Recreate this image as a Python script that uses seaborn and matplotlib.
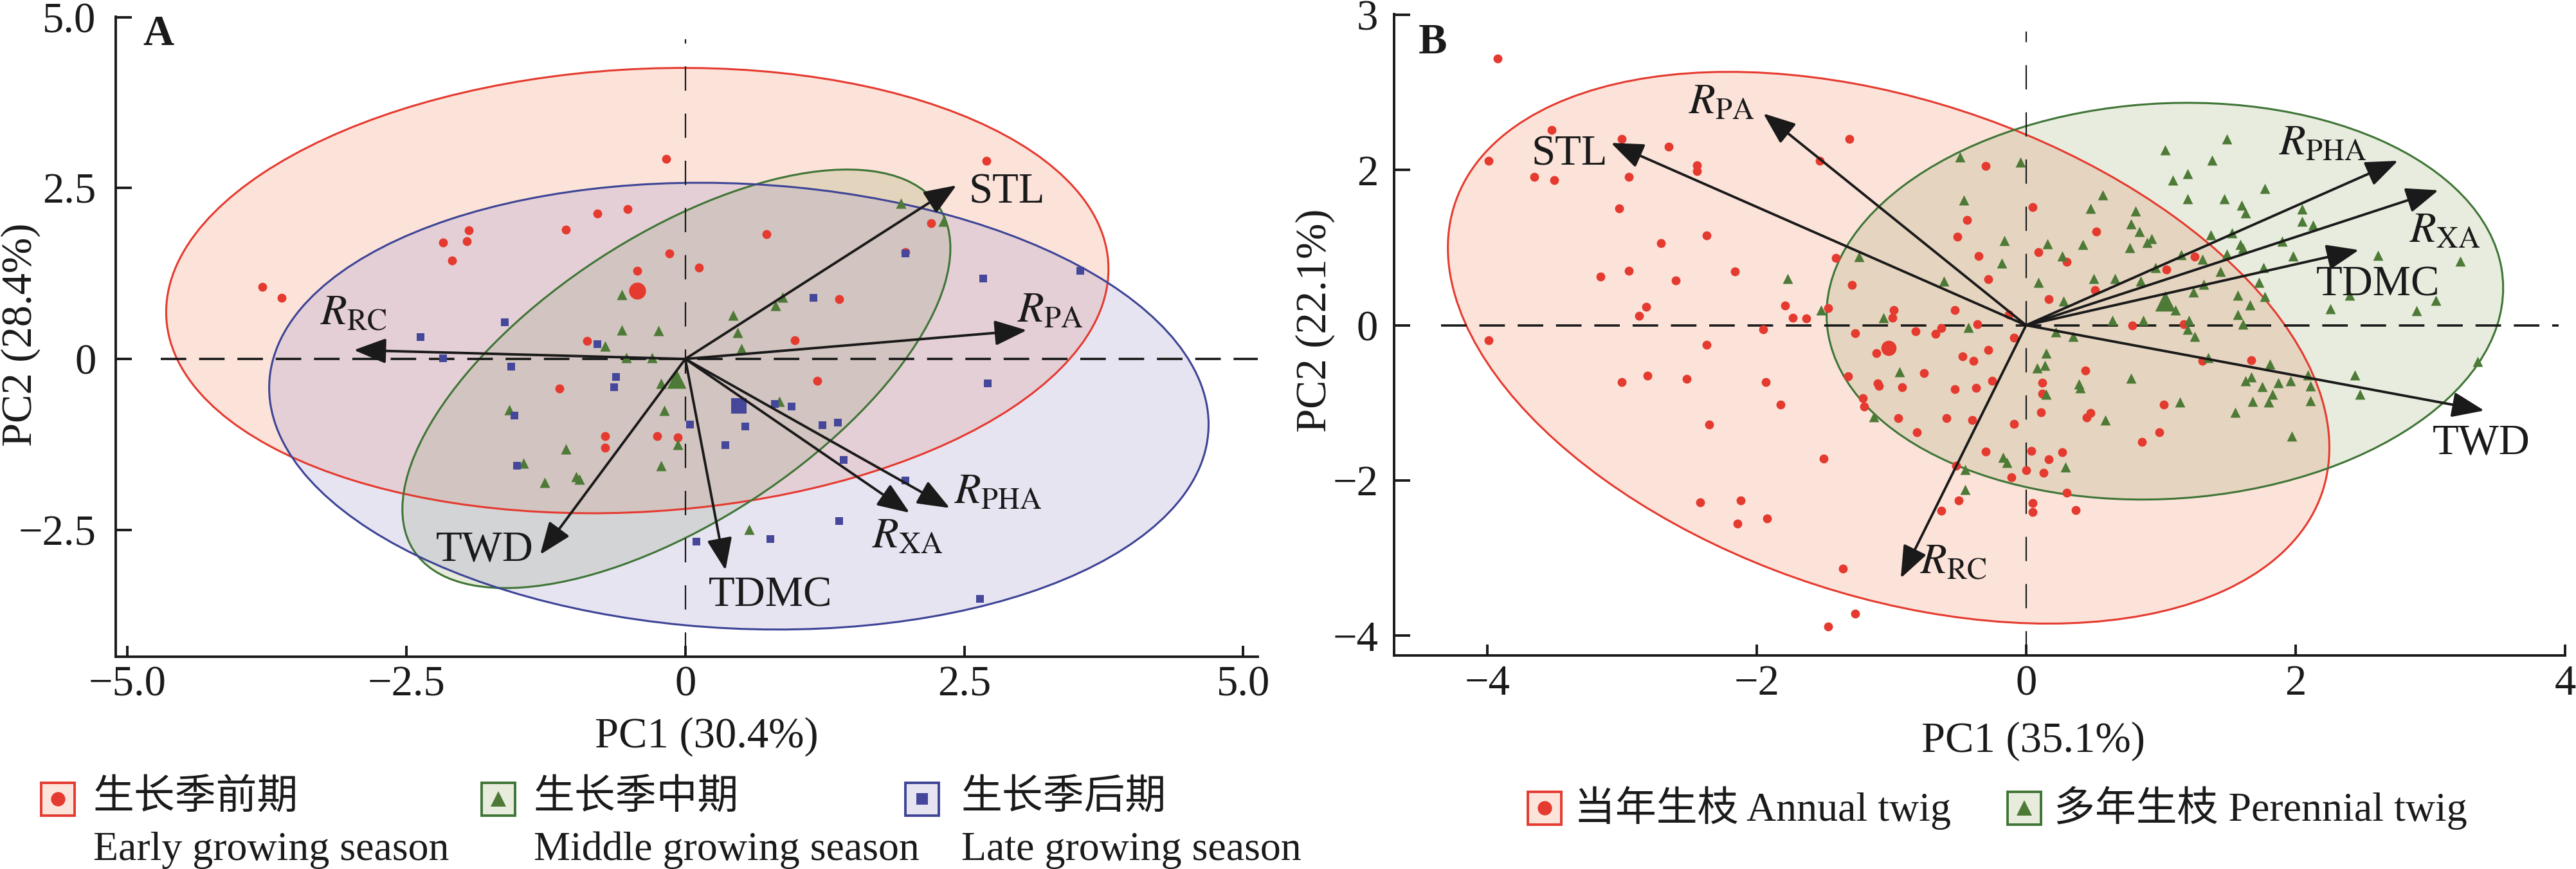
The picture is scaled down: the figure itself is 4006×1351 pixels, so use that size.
import numpy as np
import pandas as pd
import matplotlib
matplotlib.use("Agg")
import matplotlib.pyplot as plt
import seaborn as sns
from matplotlib.patches import Ellipse, Rectangle
from matplotlib.lines import Line2D

# ---------------- data: panel A (growing season) ----------------
a_early_x = [-3.79, -3.62, -0.17, 2.70, -0.79, -0.52, -1.94, -2.17, -1.96, -2.09, -1.07, 0.73, 2.20,
             1.97, -0.14, -0.43, 0.12, 1.38, 0.98, -0.88, 1.18, -1.13, -0.72, -0.72, -0.25, -0.07]
a_early_y = [1.05, 0.89, 2.93, 2.90, 2.13, 2.19, 1.88, 1.70, 1.72, 1.44, 1.89, 1.83, 1.99,
             1.56, 1.54, 1.29, 1.34, 0.88, 0.27, 0.26, -0.32, -0.43, -1.13, -1.30, -1.13, -1.15]
a_mid_x = [1.93, 2.31, -0.57, 0.87, 0.81, 0.43, 0.47, -0.57, -0.24, -0.72, 0.50, -0.53, -0.30,
           -0.22, 0.84, -0.19, -1.58, -1.07, -0.07, -1.45, -0.22, -0.98, -0.95, -1.26, 0.57]
a_mid_y = [2.28, 2.01, 0.94, 0.90, 0.78, 0.64, 0.39, 0.42, 0.41, 0.19, 0.15, 0.02, 0.02,
           -0.36, -0.62, -0.75, -0.74, -1.32, -1.25, -1.52, -1.56, -1.72, -1.76, -1.81, -2.49]
a_late_x = [3.54, 2.67, 1.97, 1.15, -1.62, -2.37, -0.79, -2.17, -1.56, -0.62, -0.64, 2.71, 0.95, 0.80,
            0.04, 0.54, 1.23, 1.37, -1.53, 0.36, 1.42, -1.51, 1.97, 1.38, 0.76, 0.10, 2.64]
a_late_y = [1.29, 1.18, 1.54, 0.89, 0.54, 0.32, 0.22, 0.01, -0.11, -0.26, -0.41, -0.36, -0.70, -0.66,
            -0.96, -0.99, -0.97, -0.93, -0.83, -1.26, -1.48, -1.56, -1.78, -2.37, -2.63, -2.67, -3.51]
a_groups = ["early", "middle", "late"]
a_cent_x = [-0.43, -0.08, 0.48]
a_cent_y = [1.00, -0.29, -0.69]
a_ell_a = [4.25, 3.56, 4.23]
a_ell_b = [3.22, 1.65, 3.24]
a_ell_angle = [10.1, 54.8, -8.9]
a_vars = ["STL", "$\\mathit{R}_{\\mathrm{PA}}$", "$\\mathit{R}_{\\mathrm{RC}}$", "TWD", "TDMC",
          "$\\mathit{R}_{\\mathrm{XA}}$", "$\\mathit{R}_{\\mathrm{PHA}}$"]
a_load_x = [2.43, 3.06, -2.97, -1.30, 0.36, 2.01, 2.37]
a_load_y = [2.54, 0.42, 0.13, -2.86, -3.09, -2.25, -2.18]
a_lab_x = [2.88, 3.27, -2.97, -1.80, 0.76, 1.99, 2.80]
a_lab_y = [2.44, 0.70, 0.66, -2.79, -3.46, -2.60, -1.95]

# ---------------- data: panel B (twig age) ----------------
b_ann_x = [-1.31, -1.53, -0.30, 0.05, -0.44, -0.51, 0.52, -1.41, -0.35, 0.09, 0.30, -0.28, -1.29, 1.25,
           1.04, 0.51, 0.17, -1.47, -1.63, -0.98, -0.99, -0.53, -0.36, -0.13, 0.79, 1.17, -1.27, -0.82,
           -0.67, -0.63, -0.09, -1.11, -0.47, -0.39, -0.28, 1.67, 1.31, 0.44, -0.76, -1.32, -0.25, -1.10,
           0.12,
           -1.09, -0.92, -0.53, -0.37, 0.12, -1.21, -1.20, -0.95, -0.59, -0.40, -0.09, 0.11, 0.48, 0.45,
           1.02, 0.99, 0.86, -0.81, -1.50, -0.30, 0.04, 0.27, 0.17, 0.00, 0.13, -0.11, -0.52, 0.30,
           -0.50, 0.05, 0.05, 0.37, -0.63, -1.36,
           -3.92, -3.99, -3.52, -3.65, -3.50, -3.00, -2.95, -2.65, -2.44, -2.44, -3.02, -2.37, -2.71,
           -3.16, -2.95, -2.60, -2.16, -2.82, -2.87, -3.99, -1.79, -1.73, -1.95, -2.37, -3.00, -2.81,
           -2.52, -1.93, -1.82, -2.35, -2.42, -2.12, -2.14, -1.92, -1.27, -1.47]
b_ann_y = [2.40, 2.12, 2.05, 1.52, 1.36, 1.14, 1.21, 0.87, 0.89, 0.94, 0.82, 0.59, 0.52, 0.88,
           0.72, 0.45, 0.34, 0.22, 0.09, 0.20, 0.10, 0.20, 0.01, 0.14, 0.00, 0.01, -0.10, -0.08,
           -0.11, -0.04, -0.16, -0.36, -0.40, -0.46, -0.32, -0.45, -0.46, -0.58, -0.62, -0.66, -0.72, -0.75,
           -0.74,
           -0.78, -0.80, -0.82, -0.81, -0.88, -0.94, -1.05, -1.20, -1.20, -1.22, -1.27, -1.12, -1.13, -1.19,
           -1.02, -1.38, -1.50, -1.38, -1.72, -1.63, -1.62, -1.64, -1.73, -1.87, -1.90, -1.96, -1.81, -2.16,
           -2.26, -2.29, -2.41, -2.38, -2.39, -3.14,
           3.44, 2.12, 2.52, 1.91, 1.87, 2.40, 1.91, 2.30, 2.06, 1.99, 1.51, 1.16, 1.06,
           0.63, 0.70, 0.58, 0.69, 0.24, 0.12, -0.19, 0.25, 0.10, -0.05, -0.25, -0.73, -0.65,
           -0.69, -0.73, -1.02, -1.28, -2.28, -2.26, -2.56, -2.49, -3.72, -3.88]
b_per_x = [1.49, 1.03, 1.38, -0.49, -0.04, 1.20, 1.09, 1.77, 0.57, 1.20, 1.47, -0.46, 1.60, 1.63,
           2.05, 0.48, 0.81, 2.05, 2.13, 0.78, 0.84, 0.93, 0.90, 0.77, 0.42, 0.16, -0.16, 1.37,
           1.53, 1.59, 1.61, 1.90, 1.98, 2.61, 3.22, 0.27, -1.24, -0.18, 1.15, 1.31, 1.49, 0.96,
           1.76, 1.44, 0.66, 0.50, 0.85, 0.09, -0.61, 1.73, 1.32, 1.24, 1.57, 0.28, 2.40, 3.04,
           1.77, 1.66, 1.11, 2.26, 2.90, 1.57, 0.64, 0.87, 1.21, 1.61, -1.52, -1.06, -0.43, 1.20,
           0.22, 0.35, 1.25, 0.15, 0.14, 0.08, 1.35, 1.81, 3.35, 2.44, 2.09, -0.94, 0.78, 1.67,
           1.63, 1.87, 1.96, 0.39,
           0.15, 0.40, 1.14, 1.68, 1.80, 2.11, 2.48, 1.83, 1.75, 2.11, 1.55, 0.59, -1.13, 1.97,
           -0.17, -0.14, 0.29, -0.45, -0.45, -1.77]
b_per_y = [2.40, 2.26, 2.13, 2.17, 2.10, 1.95, 1.87, 1.76, 1.68, 1.63, 1.63, 1.61, 1.55, 1.45,
           1.50, 1.51, 1.47, 1.34, 1.29, 1.31, 1.21, 1.12, 1.07, 1.00, 1.04, 1.05, 1.09, 1.17,
           1.19, 1.04, 0.99, 1.08, 0.89, 0.90, 0.83, 0.89, 0.88, 0.80, 0.91, 0.85, 0.92, 0.74,
           0.74, 0.69, 0.60, 0.60, 0.57, 0.55, 0.57, 0.55, 0.53, 0.43, 0.39, 0.31, 0.39, 0.32,
           0.37, 0.26, 0.20, 0.21, 0.19, 0.14, 0.06, 0.06, 0.06, 0.01, 0.20, 0.10, -0.03, -0.05,
           -0.09, -0.14, -0.14, -0.36, -0.52, -0.55, -0.42, -0.50, -0.47, -0.64, -0.64, -0.60, -0.68, -0.67,
           -0.72, -0.74, -0.72, -0.76,
           -0.89, -0.81, -0.99, -0.98, -0.99, -0.97, -0.89, -0.89, -0.79, -0.78, -1.12, -1.22, -1.18, -1.43,
           -1.70, -1.77, -1.83, -1.86, -2.12, 0.60]
b_groups = ["annual", "perennial"]
b_cent_x = [-1.02, 1.03]
b_cent_y = [-0.29, 0.31]
b_ell_a = [4.00, 2.62]
b_ell_b = [2.71, 2.445]
b_ell_angle = [-51.5, 52.7]
b_vars = ["STL", "$\\mathit{R}_{\\mathrm{PA}}$", "$\\mathit{R}_{\\mathrm{PHA}}$", "$\\mathit{R}_{\\mathrm{XA}}$",
          "TDMC", "TWD", "$\\mathit{R}_{\\mathrm{RC}}$"]
b_load_x = [-3.08, -1.95, 2.76, 3.06, 2.47, 3.40, -0.93]
b_load_y = [2.35, 2.73, 2.12, 1.74, 0.97, -1.10, -3.26]
b_lab_x = [-3.39, -2.26, 2.20, 3.11, 2.61, 3.38, -0.54]
b_lab_y = [2.20, 2.87, 2.34, 1.21, 0.52, -1.52, -3.06]

# tick labels
a_xticks = [-5.0, -2.5, 0, 2.5, 5.0]
a_xticklabels = ["\u22125.0", "\u22122.5", "0", "2.5", "5.0"]
a_yticks = [-2.5, 0, 2.5, 5.0]
a_yticklabels = ["\u22122.5", "0", "2.5", "5.0"]
b_xticks = [-4, -2, 0, 2, 4]
b_xticklabels = ["\u22124", "\u22122", "0", "2", "4"]
b_yticks = [-4, -2, 0, 2, 4]
b_yticklabels = ["\u22124", "\u22122", "0", "2", "3"]

# ---------------- styling ----------------
sns.set_style("ticks")
FAM = ["Liberation Serif", "Noto Sans CJK SC", "DejaVu Sans"]
plt.rcParams["font.family"] = FAM
plt.rcParams["mathtext.fontset"] = "stix"
plt.rcParams["axes.unicode_minus"] = True

RED = "#E53A2F"
GREEN_M = "#4D7A36"
GREEN_E = "#3F7536"
BLUE_M = "#45489A"
BLUE_E = "#3D4496"

W, H = 4006, 1351
fig = plt.figure(figsize=(W / 100, H / 100), dpi=100)
fig.patch.set_facecolor("white")

axA = fig.add_axes([180 / W, 1 - 1021 / H, (1956 - 180) / W, (1021 - 25.5) / H])
axB = fig.add_axes([2168 / W, 1 - 1019.4 / H, (3989 - 2168) / W, (1019.4 - 22) / H])

FS = 48


def style_axes(ax, xlim, ylim, xt, xtl, yt, ytl, ypad):
    ax.set_xlim(*xlim)
    ax.set_ylim(*ylim)
    ax.set_xticks(xt)
    ax.set_xticklabels(xtl)
    ax.set_yticks(yt)
    ax.set_yticklabels(ytl)
    for s in ["top", "right"]:
        ax.spines[s].set_visible(False)
    for s in ["left", "bottom"]:
        ax.spines[s].set_linewidth(2.8)
        ax.spines[s].set_color("#1a1a1a")
    ax.tick_params(axis="x", direction="in", length=12, width=2.8, pad=10, labelsize=FS, colors="#1a1a1a")
    ax.tick_params(axis="y", direction="in", length=18, width=2.8, pad=ypad, labelsize=FS, colors="#1a1a1a")
    ax.set_facecolor("white")
    ax.set_xlabel("")
    ax.set_ylabel("")


def draw_panel(ax, df, groups, colors_m, edges, fills, alphas, markers, sizes,
               cx, cy, ea, eb, eang, csizes, vars_, lx, ly, tx, ty, hx, vy):
    # ellipses
    for i, g in enumerate(groups):
        e = Ellipse((cx[i], cy[i]), 2 * ea[i], 2 * eb[i], angle=eang[i],
                    facecolor=fills[i], alpha=alphas[i], edgecolor="none", zorder=1)
        ax.add_patch(e)
    for i, g in enumerate(groups):
        e = Ellipse((cx[i], cy[i]), 2 * ea[i], 2 * eb[i], angle=eang[i],
                    facecolor="none", edgecolor=edges[i], lw=2.2, zorder=1.5)
        ax.add_patch(e)
    # reference lines
    ax.plot([hx[0], hx[1]], [0, 0], color="#1a1a1a", lw=2.6, ls=(0, (11, 5.5)), zorder=2)
    ax.plot([0, 0], [vy[0], vy[1]], color="#1a1a1a", lw=1.6, ls=(0, (17, 16)), zorder=2)
    # points
    for i, g in enumerate(groups):
        sub = df[df["group"] == g]
        sns.scatterplot(data=sub, x="pc1", y="pc2", color=colors_m[i], marker=markers[i],
                        s=sizes[i], linewidth=0, legend=False, ax=ax, zorder=3)
    cdf = pd.DataFrame({"pc1": cx, "pc2": cy, "group": groups})
    for i, g in enumerate(groups):
        sns.scatterplot(data=cdf[cdf["group"] == g], x="pc1", y="pc2", color=colors_m[i],
                        marker=markers[i], s=csizes[i], linewidth=0, legend=False, ax=ax, zorder=3.5)
    # loadings
    for i, v in enumerate(vars_):
        ax.annotate("", xy=(lx[i], ly[i]), xytext=(0, 0),
                    arrowprops=dict(arrowstyle="-|>,head_length=1.4,head_width=0.55",
                                    lw=2.8, color="#1a1a1a", shrinkA=0, shrinkB=0,
                                    mutation_scale=22), zorder=4)
        ax.text(tx[i], ty[i], v, ha="center", va="center", fontsize=FS, color="#1a1a1a", zorder=5)


# panel A
dfA = pd.DataFrame({
    "pc1": a_early_x + a_mid_x + a_late_x,
    "pc2": a_early_y + a_mid_y + a_late_y,
    "group": ["early"] * len(a_early_x) + ["middle"] * len(a_mid_x) + ["late"] * len(a_late_x),
})
style_axes(axA, (-5.104, 5.13), (-4.355, 5.01), a_xticks, a_xticklabels, a_yticks, a_yticklabels, 22)
draw_panel(axA, dfA, a_groups, [RED, GREEN_M, BLUE_M], [RED, GREEN_E, BLUE_E],
           ["#F9B9A4", "#8CA05A", "#A096CC"], [0.40, 0.22, 0.25], ["o", "^", "s"], [100, 135, 65],
           a_cent_x, a_cent_y, a_ell_a, a_ell_b, a_ell_angle, [360, 460, 290],
           a_vars, a_load_x, a_load_y, a_lab_x, a_lab_y, (-4.70, 5.13), (-4.355, 4.68))
style_axes(axA, (-5.104, 5.13), (-4.355, 5.01), a_xticks, a_xticklabels, a_yticks, a_yticklabels, 22)
axA.text(0.0236, 0.955, "A", transform=axA.transAxes, fontsize=FS, fontweight="bold",
         ha="left", va="baseline", color="#1a1a1a")

# panel B
dfB = pd.DataFrame({
    "pc1": b_ann_x + b_per_x,
    "pc2": b_ann_y + b_per_y,
    "group": ["annual"] * len(b_ann_x) + ["perennial"] * len(b_per_x),
})
style_axes(axB, (-4.69, 4.0), (-4.26, 4.01), b_xticks, b_xticklabels, b_yticks, b_yticklabels, 18)
draw_panel(axB, dfB, b_groups, [RED, GREEN_M], [RED, GREEN_E],
           ["#F9B9A4", "#8CA05A"], [0.40, 0.20], ["o", "^"], [100, 130],
           b_cent_x, b_cent_y, b_ell_a, b_ell_b, b_ell_angle, [290, 520],
           b_vars, b_load_x, b_load_y, b_lab_x, b_lab_y, (-4.34, 3.95), (-4.26, 3.79))
style_axes(axB, (-4.69, 4.0), (-4.26, 4.01), b_xticks, b_xticklabels, b_yticks, b_yticklabels, 18)
axB.text(0.021, 0.939, "B", transform=axB.transAxes, fontsize=FS, fontweight="bold",
         ha="left", va="baseline", color="#1a1a1a")

# axis labels
fig.text(1099 / W, 1 - 1145 / H, "PC1 (30.4%)", ha="center", va="center", fontsize=FS, color="#1a1a1a")
fig.text(3162 / W, 1 - 1152 / H, "PC1 (35.1%)", ha="center", va="center", fontsize=FS, color="#1a1a1a")
fig.text(32 / W, 1 - 520 / H, "PC2 (28.4%)", ha="center", va="center", rotation=90, fontsize=FS,
         color="#1a1a1a")
fig.text(2045 / W, 1 - 498 / H, "PC2 (22.1%)", ha="center", va="center", rotation=90, fontsize=FS,
         color="#1a1a1a")

# legends (drawn as figure artists)
LFS = 46


def legend_box(x0, yc, face, edge, marker, mcolor, ms):
    bw, bh = 52, 51
    r = Rectangle((x0 / W, 1 - (yc + bh / 2) / H), bw / W, bh / H, transform=fig.transFigure,
                  facecolor=face, edgecolor=edge, lw=2.8)
    fig.add_artist(r)
    m = Line2D([(x0 + bw / 2) / W], [1 - yc / H], transform=fig.transFigure, marker=marker,
               color=mcolor, markersize=ms, linestyle="none", markeredgewidth=0)
    fig.add_artist(m)


a_leg_cn = ["生长季前期", "生长季中期", "生长季后期"]
a_leg_en = ["Early growing season", "Middle growing season", "Late growing season"]
a_leg_box_x = [64, 749, 1408]
a_leg_txt_x = [145, 830, 1495]
a_leg_face = ["#FDE4DA", "#E8ECDD", "#E7E4F1"]
for i in range(3):
    legend_box(a_leg_box_x[i], 1242, a_leg_face[i], [RED, GREEN_E, BLUE_E][i], ["o", "^", "s"][i],
               [RED, GREEN_M, BLUE_M][i], [16, 17, 13][i])
    fig.text(a_leg_txt_x[i] / W, 1 - 1242 / H, a_leg_cn[i], ha="left", va="center", fontsize=LFS,
             color="#1a1a1a")
    fig.text(a_leg_txt_x[i] / W, 1 - 1337 / H, a_leg_en[i], ha="left", va="baseline", fontsize=LFS,
             color="#1a1a1a")

b_leg = ["当年生枝 Annual twig", "多年生枝 Perennial twig"]
b_leg_box_x = [2376, 3122]
b_leg_txt_x = [2448, 3194]
b_leg_face = ["#FDE4DA", "#E8ECDD"]
for i in range(2):
    legend_box(b_leg_box_x[i], 1256, b_leg_face[i], [RED, GREEN_E][i], ["o", "^"][i],
               [RED, GREEN_M][i], [16, 17][i])
    fig.text(b_leg_txt_x[i] / W, 1 - 1256 / H, b_leg[i], ha="left", va="center", fontsize=LFS,
             color="#1a1a1a")

fig.savefig("out.png", dpi=100, facecolor="white")
